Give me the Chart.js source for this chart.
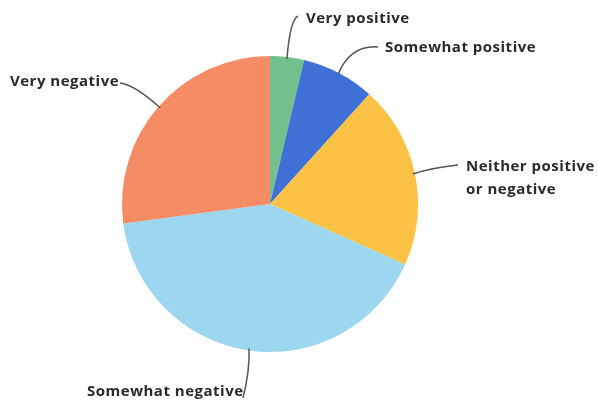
<!DOCTYPE html>
<html>
<head>
<meta charset="utf-8">
<script src="https://cdn.jsdelivr.net/npm/chart.js@4/dist/chart.umd.min.js"></script>
<style>
    html, body { margin: 0; padding: 0; background: #fff; }
    #wrap { width: 598px; height: 405px; }
</style>
</head>
<body>
<div id="wrap"><canvas id="pieChart"></canvas></div>
<script>
const categories = ['Very positive', 'Somewhat positive', 'Neither positive or negative', 'Somewhat negative', 'Very negative'];
const shares = [3.7, 8.0, 20.0, 41.2, 27.1];
const labelLines = [['Very positive'], ['Somewhat positive'], ['Neither positive', 'or negative'], ['Somewhat negative'], ['Very negative']];
const sliceColors = ['#72c08c', '#3f70d6', '#fcc245', '#9dd6ef', '#f58c66'];

// where each label text sits and which way the leader line bends
const labelSpots = [
    { x: 306, y: 19, end: [298, 16], ctrl: [290, 20] },
    { x: 385, y: 48, end: [378, 47], ctrl: [350, 45] },
    { x: 466, y: 167, end: [458, 165], ctrl: [430, 168] },
    { x: 87, y: 392, end: [243, 398], ctrl: [250, 370] },
    { x: 10, y: 82, end: [120, 83], ctrl: [135, 85] }
];

const leaderPlugin = {
    id: 'leaders',
    afterDraw(chart) {
        const ctx = chart.ctx;
        const arcs = chart.getDatasetMeta(0).data;
        ctx.save();
        arcs.forEach((arc, i) => {
            const p = arc.getProps(['x', 'y', 'startAngle', 'endAngle', 'outerRadius'], true);
            const mid = (p.startAngle + p.endAngle) / 2;
            const sx = p.x + Math.cos(mid) * (p.outerRadius - 2);
            const sy = p.y + Math.sin(mid) * (p.outerRadius - 2);
            const spot = labelSpots[i];
            ctx.strokeStyle = '#555';
            ctx.lineWidth = 1.5;
            ctx.beginPath();
            ctx.moveTo(sx, sy);
            ctx.quadraticCurveTo(spot.ctrl[0], spot.ctrl[1], spot.end[0], spot.end[1]);
            ctx.stroke();

            ctx.fillStyle = '#2a2a2a';
            ctx.font = 'bold 15px "Open Sans", sans-serif';
            ctx.letterSpacing = '0.5px';
            ctx.textAlign = 'left';
            ctx.textBaseline = 'middle';
            labelLines[i].forEach((line, k) => {
                ctx.fillText(line, spot.x, spot.y + k * 23);
            });
        });
        ctx.restore();
    }
};

new Chart('pieChart', {
    type: 'pie',
    data: {
        labels: categories,
        datasets: [{
            data: shares,
            backgroundColor: sliceColors,
            borderWidth: 0
        }]
    },
    options: {
        responsive: true,
        maintainAspectRatio: false,
        animation: false,
        layout: {
            padding: { left: 122, right: 180, top: 56, bottom: 53 }
        },
        plugins: {
            legend: { display: false },
            tooltip: { enabled: false }
        }
    },
    plugins: [leaderPlugin]
});
</script>
</body>
</html>
